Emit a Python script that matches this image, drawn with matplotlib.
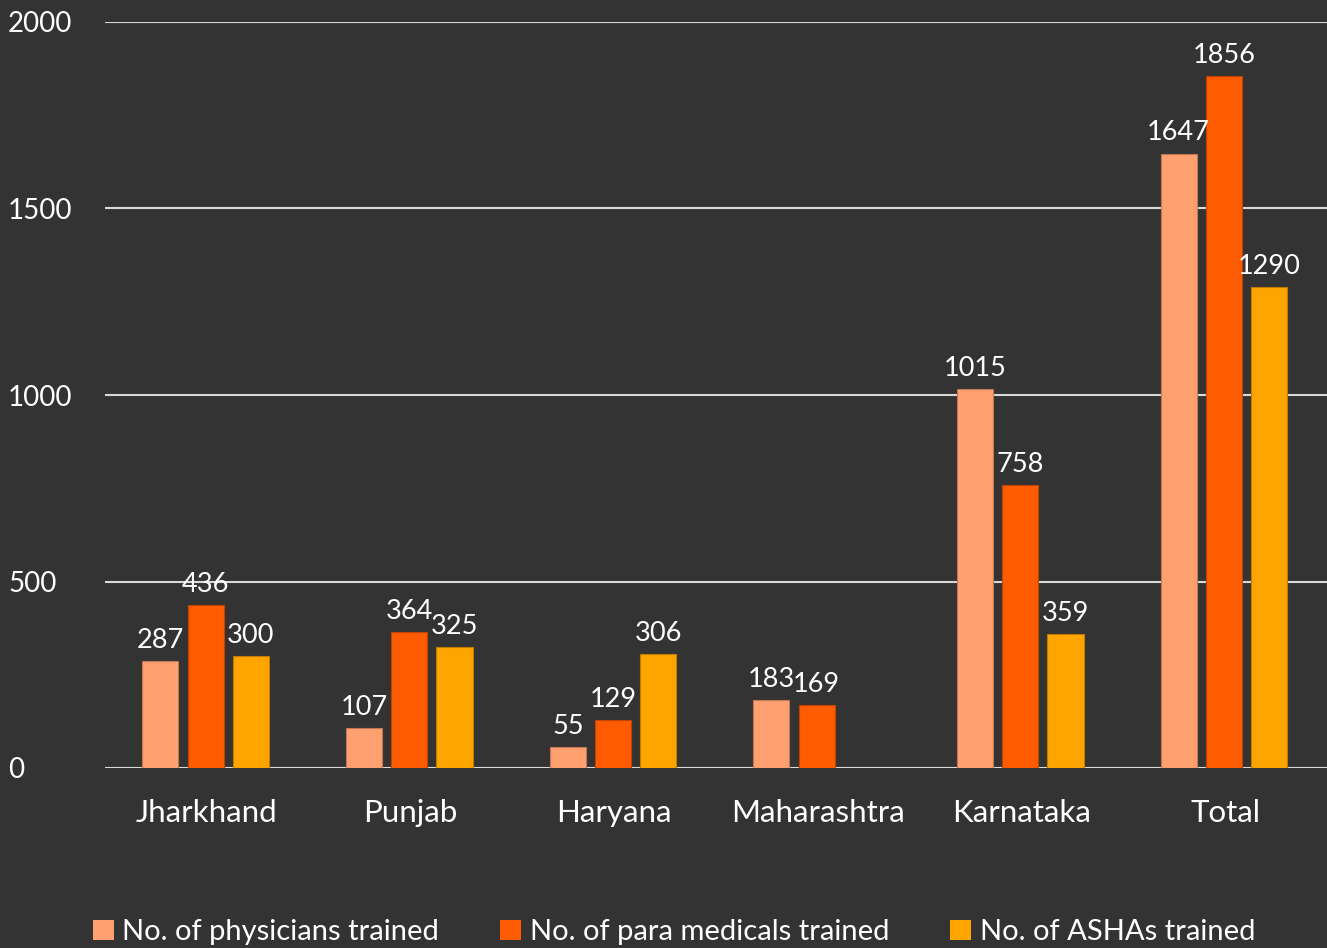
import matplotlib
matplotlib.use("Agg")
import matplotlib.pyplot as plt
import numpy as np
from matplotlib.patches import Patch

categories = ["Jharkhand", "Punjab", "Haryana", "Maharashtra", "Karnataka", "Total"]
physicians = [287, 107, 55, 183, 1015, 1647]
para_medicals = [436, 364, 129, 169, 758, 1856]
ashas = [300, 325, 306, None, 359, 1290]
series_names = ["No. of physicians trained", "No. of para medicals trained", "No. of ASHAs trained"]
colors = ["#FFA070", "#FF5B00", "#FFA500"]
edge_colors = ["#C07850", "#C04400", "#C07C00"]

plt.rcParams['font.family'] = ['Lato', 'DejaVu Sans']
bg = "#333333"
fig = plt.figure(figsize=(13.27, 9.48), dpi=100, facecolor=bg)
ax = fig.add_axes([105/1327, 180/948, 1 - 105/1327, (768-22)/948])
ax.set_facecolor(bg)

x = np.arange(len(categories))
offs = [-0.222, 0, 0.222]
w = 0.177
for s, (vals, c, ec) in enumerate(zip([physicians, para_medicals, ashas], colors, edge_colors)):
    for i, v in enumerate(vals):
        if v is None:
            continue
        ax.bar(x[i] + offs[s] - 0.006, v, w, color=c, edgecolor=ec, linewidth=0.8, zorder=3)
        ax.text(x[i] + offs[s] - 0.006, v + 22, str(v), ha='center', va='bottom',
                color='white', fontsize=19.5, zorder=4)

ax.set_xlim(-0.5, 5.5)
ax.set_ylim(0, 2000)
ax.set_yticks([0, 500, 1000, 1500, 2000])
ax.yaxis.grid(True, color="#d9d9d9", linewidth=1.5, zorder=0)
ax.set_axisbelow(True)
for sp in ax.spines.values():
    sp.set_visible(False)
ax.tick_params(axis='y', length=0, labelsize=20, labelcolor='white', pad=0)
ax.tick_params(axis='x', length=0, labelsize=22.5, labelcolor='white', pad=22)
ax.set_xticks(x)
ax.set_xticklabels(categories)
for lbl in ax.get_yticklabels():
    lbl.set_horizontalalignment('left')
    lbl.set_transform(matplotlib.transforms.blended_transform_factory(fig.transFigure, ax.transData))
    lbl.set_x(8/1327)

handles = [Patch(facecolor=c, edgecolor='none') for c in colors]
leg = fig.legend(handles, series_names, loc='center', bbox_to_anchor=(0.508, 16/948),
                 ncol=3, frameon=False, fontsize=21, labelcolor='white',
                 handlelength=0.7, handleheight=0.7, handletextpad=0.3, columnspacing=2.1)

fig.savefig("out.png", dpi=100, facecolor=bg)
